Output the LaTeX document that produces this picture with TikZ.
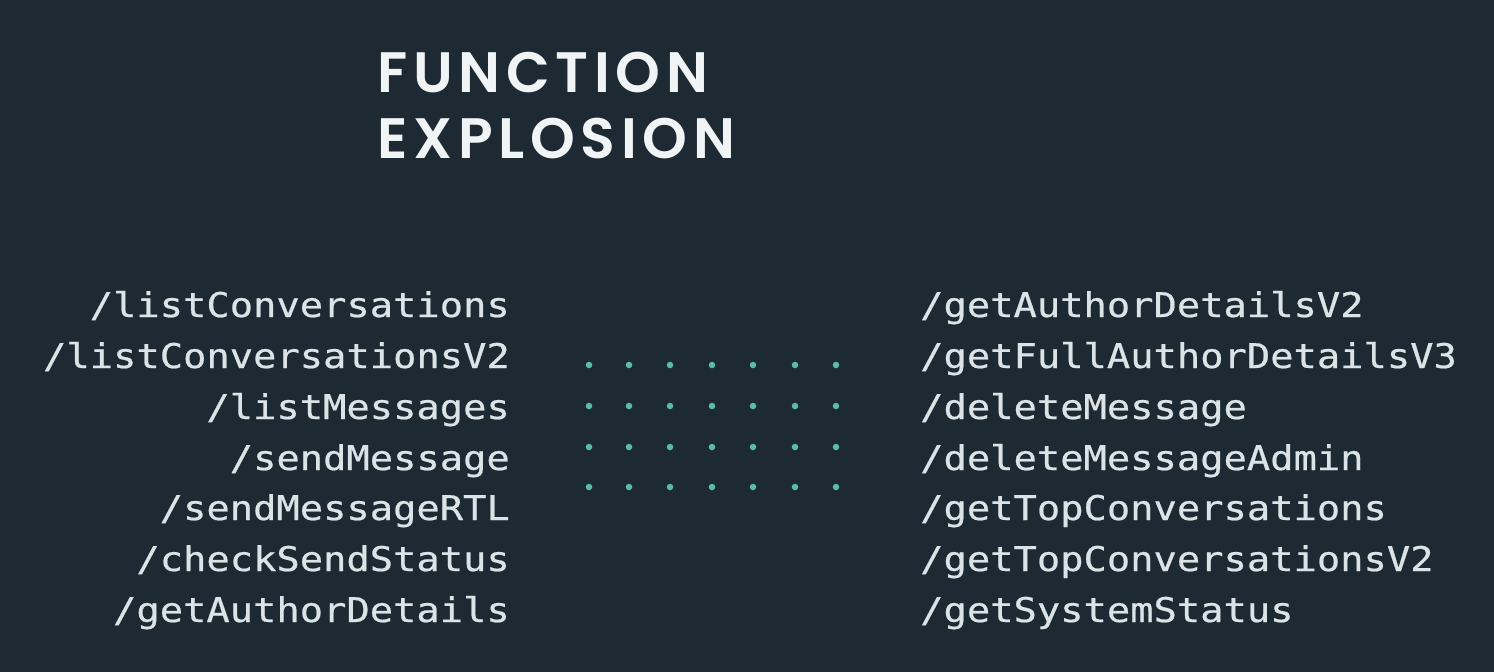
\documentclass[tikz,border=0pt]{standalone}
\usepackage{fontspec}
\newfontfamily\titlef[LetterSpace=10]{Poppins SemiBold}
\newfontfamily\monof[FakeStretch=1.14,FakeBold=0.6]{DejaVu Sans Mono}
\definecolor{bg}{HTML}{1E2A33}
\definecolor{txt}{HTML}{DCE3E6}
\definecolor{ttl}{HTML}{F0F4F5}
\definecolor{dot}{HTML}{5BBBAE}
\begin{document}
\begin{tikzpicture}[x=1pt,y=-1pt,
  title/.style={anchor=base west,inner sep=0pt,text=ttl,font=\titlef\fontsize{57}{57}\selectfont},
  lfun/.style={anchor=base east,inner sep=0pt,text=txt,font=\monof\fontsize{34}{34}\selectfont},
  rfun/.style={anchor=base west,inner sep=0pt,text=txt,font=\monof\fontsize{34}{34}\selectfont},
  gdot/.style={circle,fill=dot,inner sep=0pt,minimum size=6.5pt}]
\fill[bg] (0,0) rectangle (1494,672);
\useasboundingbox (0,0) rectangle (1494,672);
\node[title] (t1) at (377,92) {FUNCTION};
\node[title] (t2) at (377,158) {EXPLOSION};
% left column
\node[lfun] (l1) at (510,317) {/listConversations};
\node[lfun] (l2) at (510,368) {/listConversationsV2};
\node[lfun] (l3) at (510,419) {/listMessages};
\node[lfun] (l4) at (510,470) {/sendMessage};
\node[lfun] (l5) at (510,520) {/sendMessageRTL};
\node[lfun] (l6) at (510,571) {/checkSendStatus};
\node[lfun] (l7) at (510,622) {/getAuthorDetails};
% right column
\node[rfun] (r1) at (920,317) {/getAuthorDetailsV2};
\node[rfun] (r2) at (920,368) {/getFullAuthorDetailsV3};
\node[rfun] (r3) at (920,419) {/deleteMessage};
\node[rfun] (r4) at (920,470) {/deleteMessageAdmin};
\node[rfun] (r5) at (920,520) {/getTopConversations};
\node[rfun] (r6) at (920,571) {/getTopConversationsV2};
\node[rfun] (r7) at (920,622) {/getSystemStatus};
% dot grid
\foreach \i/\x in {1/589,2/629,3/670,4/712,5/753,6/795,7/836}{
  \foreach \j/\y in {1/365,2/406,3/447,4/487}{
    \node[gdot] (d\i\j) at (\x,\y) {};
  }
}
\end{tikzpicture}
\end{document}
